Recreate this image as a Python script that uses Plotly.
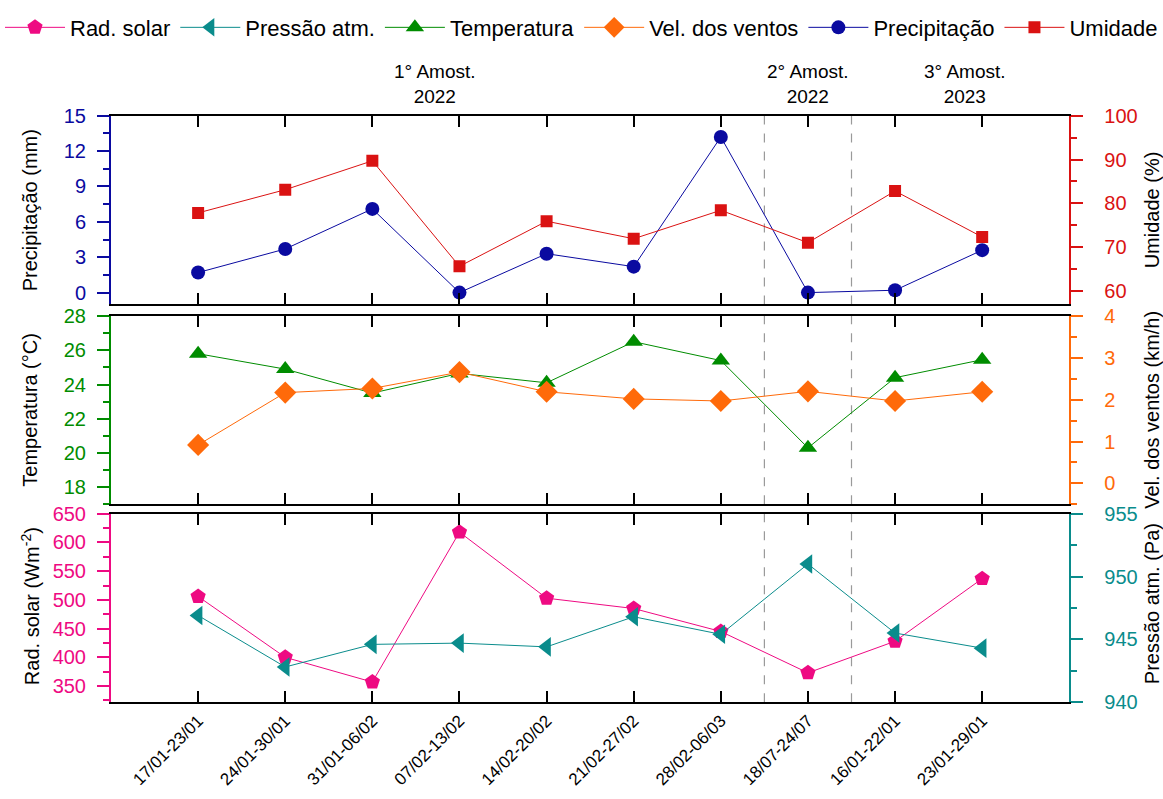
import plotly.graph_objects as go

# Sampling weeks (x axis)
semanas = ["17/01-23/01", "24/01-30/01", "31/01-06/02", "07/02-13/02", "14/02-20/02",
           "21/02-27/02", "28/02-06/03", "18/07-24/07", "16/01-22/01", "23/01-29/01"]

# Top panel
precipitacao = [1.7, 3.7, 7.1, 0.0, 3.3, 2.2, 13.2, 0.0, 0.2, 3.6]        # mm
umidade = [77.8, 83.1, 89.7, 65.6, 75.9, 71.9, 78.4, 71.0, 82.8, 72.3]   # %

# Middle panel
temperatura = [25.8, 24.9, 23.5, 24.65, 24.1, 26.5, 25.4, 20.3, 24.4, 25.45]  # °C
vel_ventos = [0.92, 2.17, 2.27, 2.66, 2.19, 2.02, 1.97, 2.2, 1.97, 2.19]        # km/h

# Bottom panel
rad_solar = [506, 400, 357, 618, 503, 485, 445, 373, 428, 537]             # W m-2
pressao = [946.9, 942.8, 944.6, 944.7, 944.4, 946.8, 945.4, 951.0, 945.5, 944.3]  # Pa

# Campaign labels
campanhas = ["1° Amost.<br>2022", "2° Amost.<br>2022", "3° Amost.<br>2023"]

W, H = 1163, 799
FONT = "Liberation Sans, Arial, sans-serif"

C_PREC = "#0A0AA0"
C_UMID = "#DA1212"
C_TEMP = "#008C00"
C_VENT = "#FF6A0A"
C_RAD = "#EE0A82"
C_PRES = "#0A8C8C"

def px_x(p):
    return p / W

def px_y(p):
    return 1 - p / H

XDOM = [px_x(111), px_x(1069.3)]
DOM_TOP = [px_y(301.7), px_y(107.7)]
DOM_MID = [px_y(507.3), px_y(313.7)]
DOM_BOT = [px_y(710.7), px_y(517.0)]

fig = go.Figure()

def add(name, y, color, symbol, size, xa, ya):
    fig.add_trace(go.Scatter(
        x=semanas, y=y, name=name, mode="lines+markers",
        line=dict(color=color, width=1),
        marker=dict(symbol=symbol, size=size, color=color, line=dict(width=0)),
        xaxis=xa, yaxis=ya))

add("Rad. solar", rad_solar, C_RAD, "pentagon", 16, "x3", "y5")
add("Pressão atm.", pressao, C_PRES, "triangle-left", 17, "x3", "y6")
add("Temperatura", temperatura, C_TEMP, "triangle-up", 16, "x2", "y3")
add("Vel. dos ventos", vel_ventos, C_VENT, "diamond", 17, "x2", "y4")
add("Precipitação", precipitacao, C_PREC, "circle", 14, "x", "y")
add("Umidade", umidade, C_UMID, "square", 12, "x", "y2")

xcommon = dict(
    domain=XDOM, range=[-1, 10], type="category",
    showline=True, linecolor="black", linewidth=2, mirror="ticks",
    ticks="inside", ticklen=11, tickwidth=2, tickcolor="black",
    showgrid=False, zeroline=False,
    tickfont=dict(family=FONT, size=17, color="black"),
)

def ycommon(color, rng, dtick, minor, domain=None, side="left", overlay=None, anchor=None):
    d = dict(
        range=rng, dtick=dtick, side=side,
        showline=True, linecolor=color, linewidth=2,
        ticks="outside", ticklen=12, tickwidth=2, tickcolor=color,
        minor=dict(dtick=minor, ticks="outside", ticklen=6, tickwidth=2, tickcolor=color),
        showgrid=False, zeroline=False,
        ticklabelstandoff=(7 if side == "left" else 17),
        tickfont=dict(family=FONT, size=20, color=color),
    )
    if domain is not None:
        d["domain"] = domain
    if overlay:
        d["overlaying"] = overlay
    if anchor:
        d["anchor"] = anchor
    return d

fig.update_layout(
    width=W, height=H,
    margin=dict(l=0, r=0, t=0, b=0),
    paper_bgcolor="white", plot_bgcolor="white",
    font=dict(family=FONT, color="black"),
    showlegend=True,
    legend=dict(
        orientation="h", x=0.008, y=px_y(17), xanchor="left", yanchor="middle",
        font=dict(family=FONT, size=22, color="black"),
        itemwidth=60, bgcolor="rgba(0,0,0,0)",
    ),
    xaxis=dict(xcommon, anchor="y", showticklabels=False),
    xaxis2=dict(xcommon, anchor="y3", showticklabels=False),
    xaxis3=dict(xcommon, anchor="y5", showticklabels=True, tickangle=-45),
    yaxis=ycommon(C_PREC, [-1, 15], 3, 1.5, domain=DOM_TOP, anchor="x"),
    yaxis2=ycommon(C_UMID, [56.9, 100], 10, 5, side="right", overlay="y", anchor="x"),
    yaxis3=ycommon(C_TEMP, [17, 28], 2, 1, domain=DOM_MID, anchor="x2"),
    yaxis4=ycommon(C_VENT, [-0.5, 4], 1, 0.5, side="right", overlay="y3", anchor="x2"),
    yaxis5=ycommon(C_RAD, [322, 650], 50, 25, domain=DOM_BOT, anchor="x3"),
    yaxis6=ycommon(C_PRES, [940, 955], 5, 2.5, side="right", overlay="y5", anchor="x3"),
)

# Dashed separators between sampling campaigns, across all panels
shapes = []
for xa, ya in [("x", "y"), ("x2", "y3"), ("x3", "y5")]:
    for xv in (6.5, 7.5):
        shapes.append(dict(type="line", xref=xa, yref=f"{ya} domain", x0=xv, x1=xv, y0=0, y1=1,
                           line=dict(color="#9A9A9A", width=1.2, dash="dash"), layer="below"))
fig.update_layout(shapes=shapes)

# Campaign labels above the top panel
for txt, xc in zip(campanhas, [435, 808, 965]):
    fig.add_annotation(text=txt, xref="paper", yref="paper", x=px_x(xc), y=px_y(75),
                       xanchor="center", yanchor="middle", showarrow=False,
                       font=dict(family=FONT, size=19, color="black"))

# Axis titles
titulos = [
    ("Precipitação (mm)", 30, 205),
    ("Temperatura (°C)", 30, 410),
    ("Rad. solar (Wm<sup>-2</sup>)", 30, 612),
    ("Umidade (%)", 1152, 205),
    ("Vel. dos ventos (km/h)", 1152, 410),
    ("Pressão atm. (Pa)", 1152, 610),
]
for txt, xc, yc in titulos:
    fig.add_annotation(text=txt, xref="paper", yref="paper", x=px_x(xc), y=px_y(yc),
                       xanchor="center", yanchor="middle", showarrow=False, textangle=-90,
                       font=dict(family=FONT, size=20, color="black"))

fig.write_html("out.html")
